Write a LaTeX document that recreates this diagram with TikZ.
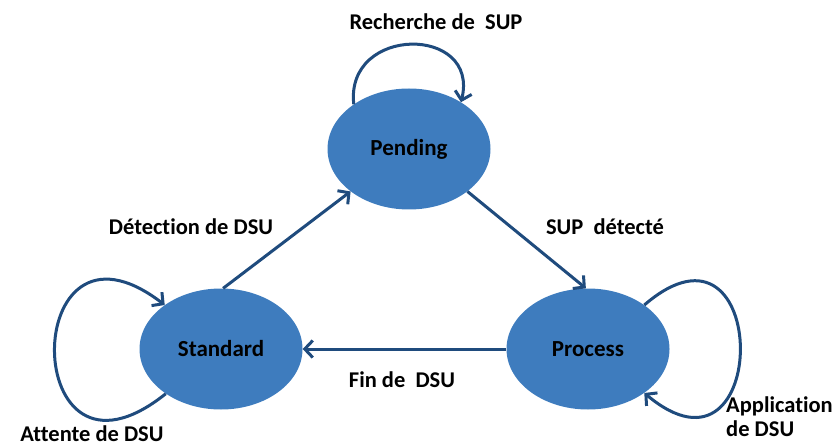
\documentclass[tikz,border=0pt]{standalone}
\usepackage{fontspec}
\setmainfont{Carlito}[Ligatures=NoCommon]
\usetikzlibrary{shapes.geometric,arrows.meta}
\definecolor{bleuetat}{RGB}{62,124,190}
\definecolor{bleufleche}{RGB}{31,75,125}
\tikzset{
  etat/.style={ellipse, fill=bleuetat, minimum width=163pt, minimum height=121pt, inner sep=0pt, font=\fontsize{23}{27}\selectfont\bfseries},
  fleche/.style={draw=bleufleche, line width=3pt, -{Straight Barb[length=8pt,width=17pt]}},
  etiquette/.style={font=\fontsize{22.5}{24}\selectfont\bfseries, inner sep=0pt, align=left}
}
\begin{document}
\begin{tikzpicture}[x=1pt,y=-1pt]
        \useasboundingbox (0,0) rectangle (837,446);

        % les etats
        \node[etat] (pending)  at (409,149) {Pending};
        \node[etat] (standard) at (221,349) {Standard};
        \node[etat] (process)  at (588,349) {Process};

        % transitions
        \draw[fleche] (standard.88) -- (pending.216);
        \draw[fleche] (pending.-36) -- (process.92);
        \draw[fleche] (process.west) -- (standard.east);

        % boucles
        \draw[fleche] (pending.141) .. controls (345,25) and (480,25) .. (pending.42);
        \draw[fleche] (standard.219) .. controls (18,512) and (18,192) .. (standard.142);
        \draw[fleche] (process.38) .. controls (772,195) and (772,500) .. (process.-38);

        % etiquettes
        \node[etiquette] (lrecherche) at (436,22) {Recherche de\ \ SUP};
        \node[etiquette] (ldetection) at (191,227) {Détection de DSU};
        \node[etiquette] (ldetecte)   at (605,227) {SUP\ \ détecté};
        \node[etiquette] (lfin)       at (402,380) {Fin de\ \ DSU};
        \node[etiquette] (lattente)   at (92,434) {Attente de DSU};
        \node[etiquette, anchor=west] (lapplication) at (726,417) {Application\\de DSU};
\end{tikzpicture}
\end{document}
